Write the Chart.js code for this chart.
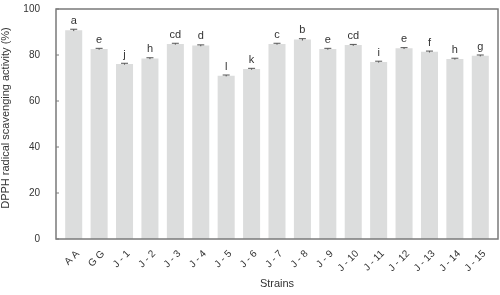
<!DOCTYPE html>
<html>
<head>
<meta charset="utf-8">
<script src="https://cdn.jsdelivr.net/npm/chart.js@4/dist/chart.umd.min.js"></script>
<style>
  html, body { margin: 0; padding: 0; background: #fff; }
  #wrap { width: 500px; height: 295px; }
</style>
</head>
<body>
<div id="wrap"><canvas id="chart"></canvas></div>
<script>
// Data
const strains = ['A A', 'G G', 'J - 1', 'J - 2', 'J - 3', 'J - 4', 'J - 5', 'J - 6', 'J - 7',
    'J - 8', 'J - 9', 'J - 10', 'J - 11', 'J - 12', 'J - 13', 'J - 14', 'J - 15'];
const activity = [90.8, 82.6, 76.1, 78.5, 84.8, 84.1, 71.0, 73.9, 84.8, 86.7, 82.6, 84.3, 77.0, 82.9, 81.4, 78.3, 79.7];
const errors = [0.4, 0.3, 0.3, 0.3, 0.3, 0.3, 0.3, 0.3, 0.3, 0.4, 0.3, 0.3, 0.3, 0.3, 0.3, 0.3, 0.3];
const groups = ['a', 'e', 'j', 'h', 'cd', 'd', 'l', 'k', 'c', 'b', 'e', 'cd', 'i', 'e', 'f', 'h', 'g'];
const yTicks = [0, 20, 40, 60, 80, 100];
const yTitle = 'DPPH radical scavenging activity (%)';

const axisColor = '#7a7a7a';
const textColor = '#333333';
const fontFamily = '"Liberation Sans", Arial, sans-serif';
const frameGap = 5; // frame sits a little outside the outer bars

// error bars, significance letters, frame, inward ticks and y title
const decorations = {
    id: 'decorations',
    afterDatasetsDraw(chart) {
        const ctx = chart.ctx;
        const y = chart.scales.y;
        const area = chart.chartArea;
        const meta = chart.getDatasetMeta(0);
        ctx.save();
        meta.data.forEach((bar, i) => {
            const top = y.getPixelForValue(activity[i] + errors[i]);
            const bot = y.getPixelForValue(activity[i] - errors[i]);
            ctx.strokeStyle = '#555';
            ctx.lineWidth = 1;
            ctx.beginPath();
            ctx.moveTo(bar.x, top); ctx.lineTo(bar.x, bot);
            ctx.moveTo(bar.x - 3.5, top); ctx.lineTo(bar.x + 3.5, top);
            ctx.stroke();
            ctx.fillStyle = textColor;
            ctx.font = '11px ' + fontFamily;
            ctx.textAlign = 'center';
            ctx.textBaseline = 'bottom';
            ctx.fillText(groups[i], bar.x, top - 3);
        });
        // frame
        const left = area.left - frameGap;
        const right = area.right + frameGap;
        ctx.strokeStyle = axisColor;
        ctx.lineWidth = 1.5;
        ctx.strokeRect(left, area.top, right - left, area.bottom - area.top);
        // ticks pointing inward
        ctx.lineWidth = 1;
        yTicks.forEach(v => {
            const py = y.getPixelForValue(v);
            ctx.beginPath();
            ctx.moveTo(left, py); ctx.lineTo(left + 3, py);
            ctx.stroke();
        });
        // y axis title
        ctx.translate(6, 118);
        ctx.rotate(-Math.PI / 2);
        ctx.fillStyle = textColor;
        ctx.font = '11px ' + fontFamily;
        ctx.textAlign = 'center';
        ctx.textBaseline = 'middle';
        ctx.fillText(yTitle, 0, 0);
        ctx.restore();
    }
};

new Chart(document.getElementById('chart'), {
    type: 'bar',
    data: {
        labels: strains,
        datasets: [{
            data: activity,
            backgroundColor: '#dcdddd',
            borderWidth: 0,
            barPercentage: 0.67,
            categoryPercentage: 1.0
        }]
    },
    options: {
        responsive: true,
        maintainAspectRatio: false,
        animation: false,
        layout: { padding: { top: 9, right: 2 + frameGap, left: 0, bottom: 0 } },
        plugins: { legend: { display: false }, tooltip: { enabled: false } },
        scales: {
            x: {
                grid: { display: false },
                border: { display: false },
                ticks: {
                    color: textColor,
                    font: { family: fontFamily, size: 10 },
                    minRotation: 45,
                    maxRotation: 45,
                    padding: 1,
                    labelOffset: 4
                },
                title: {
                    display: true,
                    text: 'Strains',
                    color: textColor,
                    font: { family: fontFamily, size: 11 },
                    padding: { top: 2, bottom: 4 }
                },
                afterFit(scale) { scale.height = 56; }
            },
            y: {
                min: 0,
                max: 100,
                grid: { display: false },
                border: { display: false },
                afterBuildTicks(scale) { scale.ticks = yTicks.map(v => ({ value: v })); },
                ticks: {
                    color: textColor,
                    font: { family: fontFamily, size: 10 },
                    padding: 8 + frameGap
                },
                afterFit(scale) {
                    scale.width = 56 + frameGap;
                    // the tick padding should not push the plot down
                    scale.paddingTop = 0;
                    scale.paddingBottom = 0;
                }
            }
        }
    },
    plugins: [decorations]
});
</script>
</body>
</html>
